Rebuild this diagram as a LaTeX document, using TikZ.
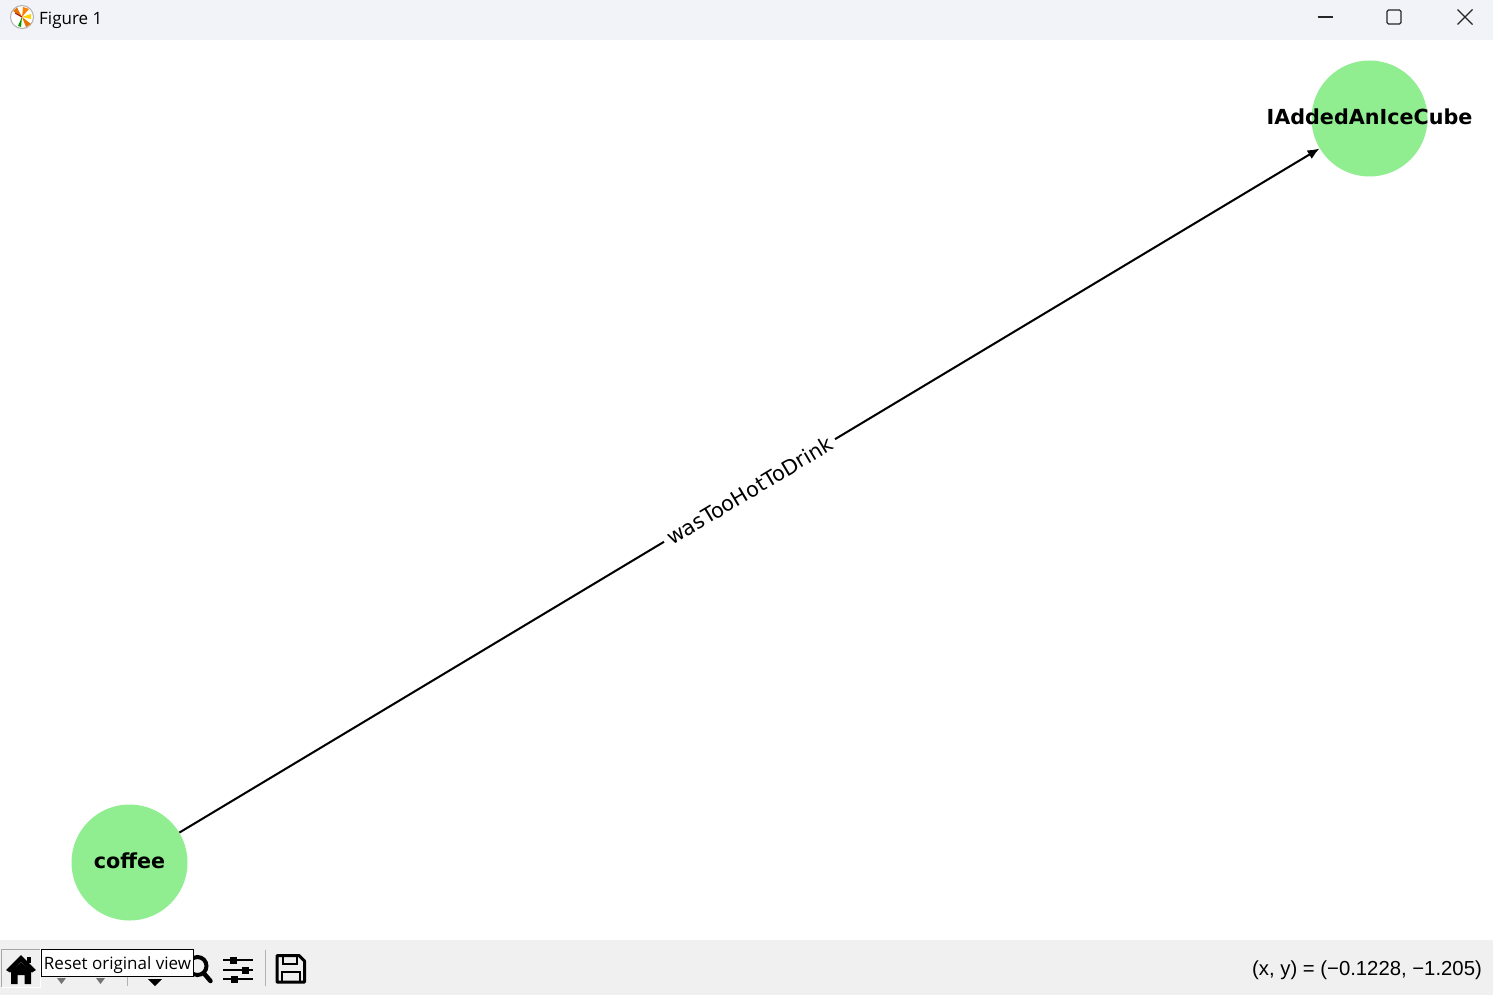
\documentclass[tikz,border=0pt]{standalone}
\usepackage{fontspec}
\setmainfont{DejaVu Sans}
\newfontfamily\uifont{Open Sans}
\newfontfamily\statusfont{Liberation Sans}
\usetikzlibrary{arrows.meta,calc}
\definecolor{nodegreen}{HTML}{90EE90}
\definecolor{titlegrey}{HTML}{F1F3F9}
\definecolor{toolgrey}{HTML}{F0F0F0}
\tikzset{
  graphnode/.style={circle,fill=nodegreen,inner sep=0pt,minimum size=116pt},
  graphtext/.style={font=\fontsize{20.7}{21}\selectfont\bfseries,text=black,inner sep=0pt,yshift=1.5pt},
  edgetext/.style={font=\fontsize{20.8}{21}\selectfont,fill=white,inner sep=5pt,sloped},
  graphedge/.style={line width=2pt,-{Latex[length=12pt,width=10pt]}},
  icon/.style={line width=3pt,black},
  winbutton/.style={line width=1.1pt,black!85}
}

\begin{document}
\begin{tikzpicture}[x=1pt,y=-1pt]
  \useasboundingbox (0,0) rectangle (1493,995);

  % window frame
  \fill[white] (0,0) rectangle (1493,995);
  \fill[titlegrey] (0,0) rectangle (1493,40);
  \fill[toolgrey] (0,940) rectangle (1493,995);

  % title bar
  \node[circle,draw=black!30,fill=white,line width=1pt,inner sep=0pt,minimum size=23pt] (logo) at (22,17) {};
  \fill[orange!90!black] (logo.center) -- (13,11) -- (17,7.5) -- cycle;
  \fill[orange!90!black] (logo.center) -- (31,24) -- (26,27) -- cycle;
  \fill[orange] (logo.center) -- (23,7) -- (29,9) -- cycle;
  \fill[green!60!black] (logo.center) -- (18,26) -- (21,27) -- cycle;
  \fill[yellow!70!orange] (logo.center) -- (31,14) -- (31,19) -- cycle;
  \draw[line width=1pt,red!70!black] (logo.center) -- (15,13);
  \node[font=\uifont\fontsize{17}{17}\selectfont,anchor=west,inner sep=0pt,yshift=-2pt] (title) at (39,18) {Figure 1};

  \coordinate (minb) at (1325,17);
  \coordinate (maxb) at (1394,17);
  \coordinate (closeb) at (1465,17);
  \draw[winbutton] ($(minb)+(-7.5,0)$) -- ($(minb)+(7.5,0)$);
  \draw[winbutton,rounded corners=1.5pt] ($(maxb)+(-7,-7)$) rectangle ($(maxb)+(7,7)$);
  \draw[winbutton] ($(closeb)+(-7.5,-7.5)$) -- ($(closeb)+(7.5,7.5)$);
  \draw[winbutton] ($(closeb)+(-7.5,7.5)$) -- ($(closeb)+(7.5,-7.5)$);

  % graph
  \node[graphnode] (coffee) at (129.5,862.5) {};
  \node[graphnode] (cube) at (1369.5,118.5) {};
  \node[graphtext] (coffeetext) at (coffee) {coffee};
  \node[graphtext] (cubetext) at (cube) {IAddedAnIceCube};
  \draw[graphedge] (coffee) -- node[edgetext] (edgelabel) {wasTooHotToDrink} (cube);

  % toolbar
  \draw[black!35,line width=1pt] (1.5,987) -- (1.5,949) -- (40,949);
  \draw[white,line width=1pt] (40.5,949) -- (40.5,987.5) -- (1.5,987.5);
  \fill[black] (21,955) -- (36,970) -- (32,972.5) -- (21,961.5) -- (10,972.5) -- (6,970) -- cycle;
  \fill[black] (11,971) -- (21,962) -- (31,971) -- (31,984) -- (24.5,984) -- (24.5,975) -- (17.5,975) -- (17.5,984) -- (11,984) -- cycle;
  \fill[black] (27,957) rectangle (31,963);

  \fill[black!55] (57,978) -- (66,978) -- (61.5,984) -- cycle;
  \fill[black!55] (96,978) -- (105,978) -- (100.5,984) -- cycle;
  \draw[black!30,line width=1pt] (127.5,950) -- (127.5,986);
  \fill[black] (148,979) -- (162,979) -- (155,986) -- cycle;

  \draw[icon,line width=4pt] (197.5,966) circle (9pt);
  \draw[icon,line width=4.5pt,line cap=round] (204.5,974) -- (210.5,981);

  \foreach \y/\x in {960/233,970/245,979/234} {
    \draw[black,line width=2pt] (223,\y) -- (253,\y);
    \fill[black] (\x-3.5,\y-3.5) rectangle (\x+3.5,\y+3.5);
  }
  \draw[black!30,line width=1pt] (265.5,950) -- (265.5,986);

  \draw[icon,line join=round] (277,955.5) -- (299,955.5) -- (304.5,961) -- (304.5,982) -- (277,982) -- cycle;
  \draw[line width=2.5pt] (283,956) -- (283,964) -- (297,964) -- (297,956);
  \draw[line width=2.5pt] (282,982) -- (282,972) -- (300,972) -- (300,982);

  \node[draw=black,line width=1pt,fill=white,minimum width=152pt,minimum height=27pt,inner sep=0pt] (tooltip) at (117.5,962.5) {};
  \node[font=\uifont\fontsize{17}{17}\selectfont,inner sep=0pt,yshift=-3pt] (tooltiptext) at (tooltip) {Reset original view};

  \node[font=\statusfont\fontsize{20.3}{20}\selectfont,anchor=east,inner sep=0pt,yshift=-2pt] (status) at (1482,968) {(x, y) = (−0.1228, −1.205)};
\end{tikzpicture}
\end{document}
